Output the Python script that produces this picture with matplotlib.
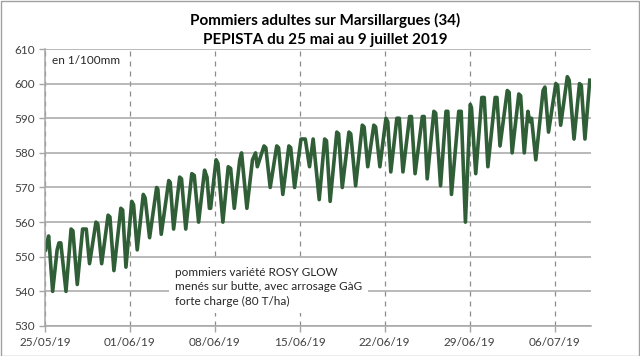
""" dendrometre PEPISTA - pommiers Marsillargues """
import datetime as dt

import matplotlib
matplotlib.use("Agg")
import matplotlib.pyplot as plt
import matplotlib.dates as mdates

plt.rcParams['font.family'] = ['Lato', 'DejaVu Sans']

# turning points of the curve (days since 25/05/19, 1/100 mm)
days = [0.05, 0.15, 0.3, 0.63, 1.0, 1.15, 1.3, 1.73, 2.15, 2.3, 2.66, 3.1, 3.4, 3.67,
        4.2, 4.35, 4.67, 5.2, 5.35, 5.68, 6.25, 6.4, 6.67, 7.15, 7.3, 7.6, 8.1,
        8.25, 8.62, 9.2, 9.3, 9.58, 10.2, 10.32, 10.6, 11.1, 11.25, 11.6, 12.1,
        12.3, 12.66, 13.15, 13.35, 13.55, 13.65, 14.1, 14.25, 14.66, 15.1, 15.3,
        15.6, 16.05, 16.2, 16.64, 17.1, 17.35, 17.5, 18.05, 18.2, 18.56, 19.1,
        19.25, 19.6, 20.1, 20.25, 20.57, 21.1, 21.45, 21.8, 22.1, 22.6, 23.05,
        23.2, 23.5, 24.05, 24.2, 24.5, 25.05, 25.2, 25.6, 26.15, 26.3, 26.6,
        27.1, 27.25, 27.6, 28.1, 28.25, 28.5, 29.0, 29.2, 29.5, 30.05, 30.2,
        30.5, 31.1, 31.25, 31.5, 32.05, 32.2, 32.6, 33.05, 33.2, 33.5, 34.1,
        34.3, 34.65, 35.05, 35.15, 35.5, 36.0, 36.2, 36.5, 37.1, 37.25, 37.5,
        38.1, 38.25, 38.5, 39.05, 39.2, 39.5, 39.8, 39.95, 40.1, 40.45, 41.05,
        41.2, 41.5, 42.1, 42.25, 42.5, 43.05, 43.2, 43.6, 44.05, 44.2, 44.5, 44.9]
mm = [552, 554, 556, 540, 552, 554, 554, 540, 558, 557.5, 542, 558, 558, 548,
      560, 559.5, 548, 562, 561.5, 546, 564, 563.5, 547, 566, 565, 552, 568,
      567, 555.5, 570, 569.5, 556.5, 572, 571.5, 558, 573, 572.5, 558, 574,
      573.5, 560, 575, 573, 564, 564, 578, 577, 560, 576, 575.5,
      564, 578, 580, 564, 578, 580, 576, 582, 581.5, 570, 582,
      581.5, 568, 582, 581.5, 570, 584, 584, 576, 584, 566.5, 584,
      583.5, 566, 586, 585.5, 570, 586, 585.5, 570.5, 588, 587.5, 576,
      588, 587.5, 576, 590, 589, 574.5, 590, 590, 574.5, 590.5, 590.5,
      574, 590.5, 590.5, 572.5, 592, 591.5, 570.5, 592, 592, 568, 592,
      592, 560, 594, 593, 574, 596, 596, 576, 596, 596, 582,
      598, 597.5, 580, 597, 596.5, 580, 592, 589, 590, 578, 598,
      599, 586, 600, 599.5, 588, 602, 601, 584, 600, 599.5, 584, 601]

start = dt.datetime(2019, 5, 25)
end = dt.datetime(2019, 7, 9)
y_ticks = list(range(530, 611, 10))
x_ticks = [start + dt.timedelta(days=7 * i) for i in range(7)]

title = "Pommiers adultes sur Marsillargues (34)\nPEPISTA du 25 mai au 9 juillet 2019"
note = "pommiers variété ROSY GLOW\nmenés sur butte, avec arrosage GàG\nforte charge (80 T/ha)"

t = [start + dt.timedelta(days=d) for d in days]

fig = plt.figure(figsize=(6.4, 3.56), dpi=100)
ax = fig.add_axes([45 / 640, 1 - 326 / 356, 546 / 640, 277 / 356])

ax.plot(t, mm, color='#2f5e37', lw=2.6, solid_joinstyle='round')

ax.set_xlim(start, end)
ax.set_ylim(530, 610)
ax.set_yticks(y_ticks)
ax.set_xticks(x_ticks)
ax.xaxis.set_major_formatter(mdates.DateFormatter('%d/%m/%y'))

ax.grid(axis='y', color='#a6a6a6', lw=1.1)
ax.grid(axis='x', color='#8c8c8c', lw=0.9, ls=(0, (4, 4)))
ax.set_axisbelow(True)
for s in ['top', 'right']:
    ax.spines[s].set_visible(False)
for s in ['left', 'bottom']:
    ax.spines[s].set_color('#a6a6a6')
    ax.spines[s].set_linewidth(1.1)
ax.tick_params(colors='#a6a6a6', labelcolor='#404040', labelsize=8.5,
               length=4, width=1)
ax.tick_params(axis='x', pad=4)

fig.text(52 / 640, 1 - 60 / 356, "en 1/100mm", fontsize=8.5, color='#262626',
         va='center', ha='left')

fig.text(325 / 640, 1 - 30 / 356, title, ha='center', va='center',
         fontsize=11, fontweight='bold', color='black', linespacing=1.4,
         bbox=dict(facecolor='white', edgecolor='none', pad=2))

fig.text(175 / 640, 1 - 287 / 356, note, ha='left', va='center',
         fontsize=8.5, color='#262626', linespacing=1.35,
         bbox=dict(facecolor='white', edgecolor='none',
                   boxstyle='square,pad=0.5'))

fig.patches.append(plt.Rectangle((0.5 / 640, 0.5 / 356), 638.5 / 640, 354.5 / 356,
                                 transform=fig.transFigure, fill=False,
                                 edgecolor='#a0a0a0', lw=1))

fig.savefig('out.png', dpi=100)
